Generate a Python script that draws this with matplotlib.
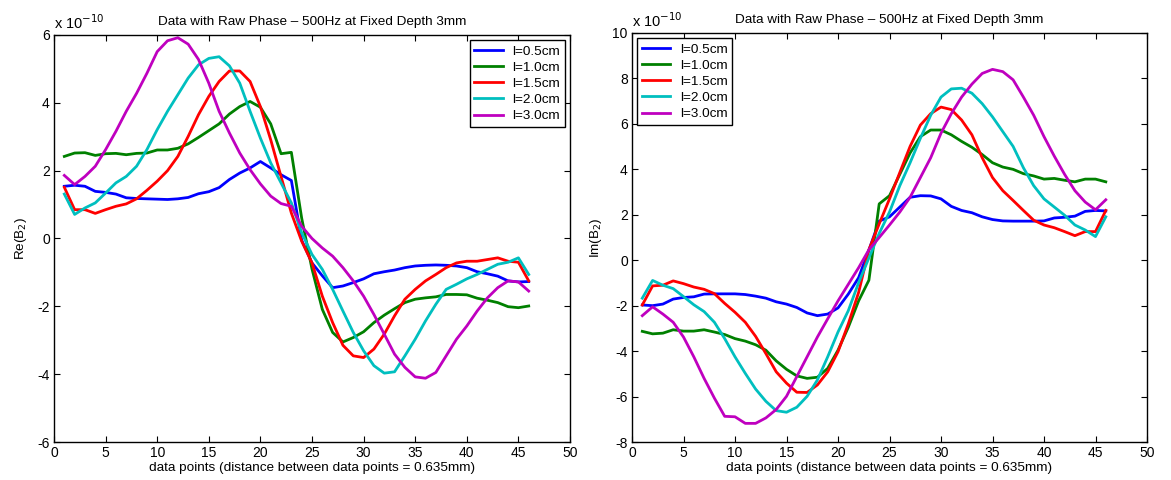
import numpy as np
import matplotlib
matplotlib.use("Agg")
import matplotlib.pyplot as plt
from matplotlib.ticker import FuncFormatter, MultipleLocator

plt.rcParams['font.family'] = ['Liberation Sans', 'DejaVu Sans']

x = np.arange(1, 47)
labels = ['l=0.5cm', 'l=1.0cm', 'l=1.5cm', 'l=2.0cm', 'l=3.0cm']
colors = ['#0000ff', '#008000', '#ff0000', '#00bfbf', '#bf00bf']
scale = 1e-10

# Real part (units of 1e-10)
re_05 = [1.54, 1.57, 1.54, 1.39, 1.36, 1.31, 1.20, 1.18, 1.17, 1.16, 1.15, 1.17, 1.21, 1.32, 1.38, 1.50,
         1.74, 1.93, 2.08, 2.27, 2.08, 1.88, 1.71, -0.05, -0.72, -1.10, -1.45, -1.40, -1.30, -1.19, -1.04,
         -0.98, -0.93, -0.86, -0.81, -0.79, -0.78, -0.79, -0.81, -0.86, -0.98, -1.04, -1.11, -1.25, -1.28, -1.27]
re_10 = [2.42, 2.52, 2.53, 2.45, 2.50, 2.51, 2.47, 2.51, 2.52, 2.61, 2.61, 2.66, 2.79, 2.98, 3.18, 3.38,
         3.67, 3.89, 4.04, 3.87, 3.38, 2.50, 2.54, 0.60, -0.90, -2.09, -2.77, -3.05, -2.92, -2.75, -2.48,
         -2.26, -2.07, -1.89, -1.79, -1.75, -1.72, -1.65, -1.65, -1.66, -1.76, -1.82, -1.89, -2.01, -2.04, -1.99]
re_15 = [1.51, 0.85, 0.85, 0.74, 0.85, 0.95, 1.02, 1.17, 1.42, 1.69, 2.00, 2.42, 3.01, 3.65, 4.19, 4.63,
         4.94, 4.94, 4.63, 3.89, 2.91, 1.83, 0.75, -0.08, -0.72, -1.70, -2.48, -3.15, -3.46, -3.51, -3.26,
         -2.82, -2.28, -1.79, -1.50, -1.25, -1.06, -0.86, -0.72, -0.67, -0.67, -0.62, -0.57, -0.67, -0.70, -1.25]
re_20 = [1.31, 0.71, 0.90, 1.05, 1.34, 1.64, 1.83, 2.13, 2.62, 3.21, 3.75, 4.24, 4.73, 5.12, 5.31, 5.36,
         5.09, 4.58, 3.75, 2.96, 2.23, 1.64, 1.05, 0.17, -0.47, -0.91, -1.50, -2.14, -2.77, -3.31, -3.75,
         -3.97, -3.93, -3.46, -2.97, -2.43, -1.94, -1.50, -1.35, -1.19, -1.06, -0.91, -0.76, -0.70, -0.57, -1.06]
re_30 = [1.86, 1.59, 1.83, 2.13, 2.62, 3.16, 3.75, 4.28, 4.87, 5.51, 5.83, 5.92, 5.73, 5.28, 4.58, 3.75,
         3.11, 2.52, 2.03, 1.61, 1.25, 1.03, 0.95, 0.36, 0.00, -0.28, -0.52, -0.86, -1.25, -1.70, -2.24,
         -2.82, -3.41, -3.80, -4.08, -4.12, -3.95, -3.46, -2.97, -2.58, -2.14, -1.75, -1.45, -1.25, -1.28, -1.55]

# Imaginary part (units of 1e-10)
im_05 = [-1.97, -2.00, -1.93, -1.71, -1.64, -1.61, -1.49, -1.48, -1.48, -1.48, -1.51, -1.58, -1.67, -1.83,
         -1.93, -2.08, -2.32, -2.44, -2.37, -2.10, -1.49, -0.77, 0.45, 1.72, 1.91, 2.34, 2.77, 2.84, 2.83,
         2.70, 2.37, 2.19, 2.09, 1.91, 1.79, 1.73, 1.72, 1.72, 1.72, 1.73, 1.86, 1.89, 1.94, 2.15, 2.19, 2.17]
im_10 = [-3.13, -3.24, -3.21, -3.06, -3.12, -3.12, -3.06, -3.16, -3.27, -3.45, -3.56, -3.72, -3.96, -4.43,
         -4.80, -5.09, -5.20, -5.15, -4.76, -3.96, -2.95, -1.79, -0.88, 2.48, 2.84, 3.78, 4.72, 5.44, 5.73,
         5.73, 5.52, 5.23, 4.97, 4.65, 4.29, 4.10, 4.00, 3.81, 3.71, 3.57, 3.60, 3.52, 3.45, 3.57, 3.57, 3.45]
im_15 = [-1.97, -1.13, -1.10, -0.91, -1.03, -1.18, -1.28, -1.47, -1.90, -2.29, -2.73, -3.35, -4.11, -4.91,
         -5.41, -5.81, -5.82, -5.49, -4.91, -4.03, -2.80, -1.42, 0.46, 1.60, 2.70, 3.86, 5.01, 5.95, 6.45,
         6.74, 6.63, 6.17, 5.52, 4.51, 3.64, 3.06, 2.63, 2.19, 1.76, 1.55, 1.43, 1.26, 1.08, 1.26, 1.26, 2.19]
im_20 = [-1.67, -0.89, -1.10, -1.25, -1.60, -1.96, -2.26, -2.73, -3.45, -4.25, -4.98, -5.67, -6.21, -6.62,
         -6.69, -6.47, -5.99, -5.27, -4.25, -3.16, -2.22, -0.99, 0.10, 1.18, 2.12, 3.28, 4.29, 5.37, 6.38,
         7.18, 7.54, 7.57, 7.35, 6.89, 6.31, 5.66, 5.01, 4.07, 3.28, 2.70, 2.34, 1.98, 1.55, 1.33, 1.04, 1.91]
im_30 = [-2.44, -2.05, -2.37, -2.73, -3.38, -4.25, -5.20, -6.07, -6.87, -6.89, -7.18, -7.18, -6.94, -6.57,
         -5.99, -5.12, -4.25, -3.38, -2.58, -1.79, -1.06, -0.33, 0.46, 1.00, 1.55, 2.12, 2.77, 3.64, 4.51,
         5.59, 6.45, 7.18, 7.75, 8.22, 8.40, 8.30, 7.94, 7.18, 6.38, 5.44, 4.58, 3.78, 3.06, 2.56, 2.22, 2.66]

re_series = [re_05, re_10, re_15, re_20, re_30]
im_series = [im_05, im_10, im_15, im_20, im_30]

title = 'Data with Raw Phase \u2013 500Hz at Fixed Depth 3mm'
xlabel = 'data points (distance between data points = 0.635mm)'

W, H = 1171, 480
fig = plt.figure(figsize=(W / 100, H / 100), dpi=100)
ax1 = fig.add_axes([54 / W, 1 - 442 / H, 516 / W, 407 / H])
ax2 = fig.add_axes([632 / W, 1 - 442 / H, 515 / W, 409 / H])

fmt = FuncFormatter(lambda v, p: ('%g' % round(v / scale, 6)).replace('\u2212', '-'))


def style(ax, series, ylim, ystep, ylab, legloc):
    for s, c, lab in zip(series, colors, labels):
        ax.plot(x, np.array(s) * scale, color=c, lw=2.0, label=lab)
    ax.set_xlim(0, 50)
    ax.set_ylim(ylim[0] * scale, ylim[1] * scale)
    ax.xaxis.set_major_locator(MultipleLocator(5))
    ax.yaxis.set_major_locator(MultipleLocator(ystep * scale))
    ax.yaxis.set_major_formatter(fmt)
    ax.xaxis.get_offset_text().set_visible(False)
    ax.yaxis.get_offset_text().set_visible(False)
    ax.tick_params(direction='in', top=True, right=True, labelsize=10, length=4, width=0.8, pad=3)
    for sp in ax.spines.values():
        sp.set_linewidth(1.0)
    ax.set_title(title, fontsize=9.7, pad=7)
    ax.set_xlabel(xlabel, fontsize=9.7, labelpad=1)
    ax.set_ylabel(ylab, fontsize=9.7, labelpad=6)
    ax.text(0.0, 1.008, 'x 10$^{-10}$', transform=ax.transAxes, fontsize=10.5,
            ha='left', va='bottom')
    leg = ax.legend(loc=legloc, fontsize=9.7, fancybox=False, framealpha=1,
                    edgecolor='black', handlelength=2.1, borderaxespad=0.4,
                    labelspacing=0.28, handletextpad=0.7, borderpad=0.35)
    leg.get_frame().set_linewidth(1.0)


style(ax1, re_series, (-6, 6), 2, 'Re(B$_2$)', 'upper right')
style(ax2, im_series, (-8, 10), 2, 'Im(B$_2$)', 'upper left')

fig.savefig('out.png', dpi=100)
